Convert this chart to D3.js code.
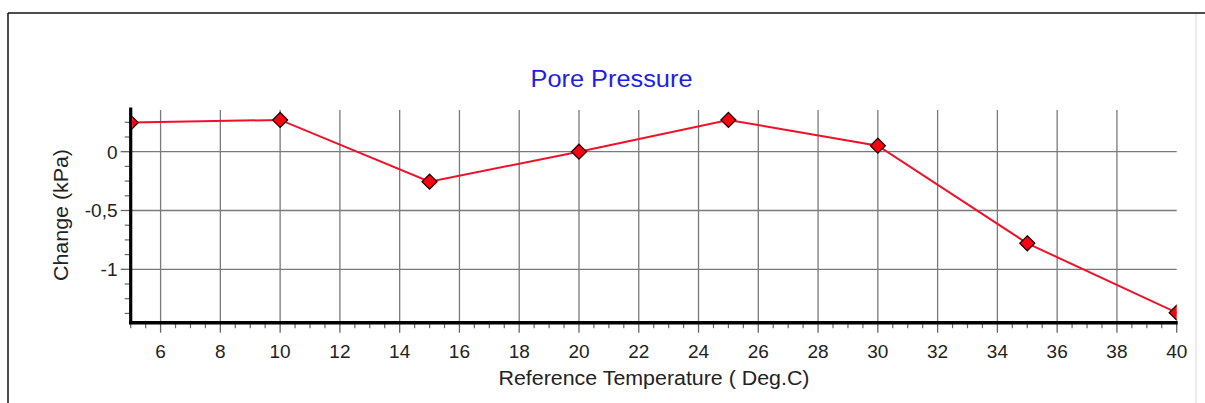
<!DOCTYPE html>
<html>
<head>
<meta charset="utf-8">
<script src="https://cdn.jsdelivr.net/npm/d3@7"></script>
<style>
  html, body { margin: 0; padding: 0; background: #fff; }
  svg { display: block; font-family: "Liberation Sans", Arial, sans-serif; }
</style>
</head>
<body>
<svg id="chart" width="1205" height="403"></svg>
<script>
// ---- data ----
const temperatures = [5, 10, 15, 20, 25, 30, 35, 40];
const changes = [0.247, 0.27, -0.255, 0.0, 0.27, 0.051, -0.779, -1.369];
const xTickValues = [6, 8, 10, 12, 14, 16, 18, 20, 22, 24, 26, 28, 30, 32, 34, 36, 38, 40];
const yTickValues = [0, -0.5, -1];
const yTickLabels = ["0", "-0,5", "-1"];
const titleText = "Pore Pressure";
const xLabelText = "Reference Temperature ( Deg.C)";
const yLabelText = "Change (kPa)";

const svg = d3.select("#chart");

// frame
svg.append("line").attr("x1", 8).attr("x2", 1205).attr("y1", 13).attr("y2", 13)
  .attr("stroke", "#111").attr("stroke-width", 1.5);
svg.append("line").attr("x1", 8).attr("x2", 8).attr("y1", 13).attr("y2", 403)
  .attr("stroke", "#111").attr("stroke-width", 1.5);
svg.append("line").attr("x1", 1196).attr("x2", 1196).attr("y1", 14).attr("y2", 403)
  .attr("stroke", "#e4e4e4").attr("stroke-width", 1.5);

const x = d3.scaleLinear().domain([5, 40]).range([130.7, 1176.7]);
const y = d3.scaleLinear().domain([-1.454, 0.363]).range([322.7, 109]);

const plotTop = 109, plotBottom = 322.7, plotLeft = 130.7, plotRight = 1176.7;

// grid
const gridX = xTickValues.filter(v => v < 40);
svg.append("g").selectAll("line").data(gridX).join("line")
  .attr("x1", d => x(d)).attr("x2", d => x(d))
  .attr("y1", 110).attr("y2", plotBottom)
  .attr("stroke", "#7a7a7a").attr("stroke-width", 1.3);
svg.append("g").selectAll("line").data(yTickValues).join("line")
  .attr("x1", plotLeft).attr("x2", plotRight)
  .attr("y1", d => y(d)).attr("y2", d => y(d))
  .attr("stroke", "#7a7a7a").attr("stroke-width", 1.3);

// minor ticks
const xMinor = d3.range(5, 40.01, 0.5).filter(v => !xTickValues.includes(v));
svg.append("g").selectAll("line").data(xMinor).join("line")
  .attr("x1", d => x(d)).attr("x2", d => x(d))
  .attr("y1", plotBottom).attr("y2", plotBottom + 5.5)
  .attr("stroke", "#666").attr("stroke-width", 1.2);
svg.append("g").selectAll("line").data(xTickValues).join("line")
  .attr("x1", d => x(d)).attr("x2", d => x(d))
  .attr("y1", plotBottom).attr("y2", plotBottom + 10)
  .attr("stroke", "#666").attr("stroke-width", 1.3);

const yMinor = d3.range(-11, 3).map(i => i * 0.125).filter(v => !yTickValues.includes(v));
svg.append("g").selectAll("line").data(yMinor).join("line")
  .attr("x1", plotLeft - 6).attr("x2", plotLeft)
  .attr("y1", d => y(d)).attr("y2", d => y(d))
  .attr("stroke", "#666").attr("stroke-width", 1.2);
svg.append("g").selectAll("line").data(yTickValues).join("line")
  .attr("x1", plotLeft - 10).attr("x2", plotLeft)
  .attr("y1", d => y(d)).attr("y2", d => y(d))
  .attr("stroke", "#666").attr("stroke-width", 1.3);

// tick labels
svg.append("g").selectAll("text").data(xTickValues).join("text")
  .attr("x", d => x(d)).attr("y", 357.5)
  .attr("text-anchor", "middle").attr("font-size", 19).attr("fill", "#222")
  .text(d => d);
svg.append("g").selectAll("text").data(yTickValues).join("text")
  .attr("x", 117.5).attr("y", d => y(d)).attr("dy", "0.36em")
  .attr("text-anchor", "end").attr("font-size", 19).attr("fill", "#222")
  .text((d, i) => yTickLabels[i]);

// axis lines
svg.append("line").attr("x1", plotLeft).attr("x2", plotLeft)
  .attr("y1", 107.5).attr("y2", plotBottom + 1.5)
  .attr("stroke", "#000").attr("stroke-width", 3.2);
svg.append("line").attr("x1", plotLeft - 1.5).attr("x2", plotRight + 1)
  .attr("y1", plotBottom).attr("y2", plotBottom)
  .attr("stroke", "#000").attr("stroke-width", 3.5);

// clip
svg.append("clipPath").attr("id", "plotclip").append("rect")
  .attr("x", plotLeft + 1.5).attr("y", plotTop - 10)
  .attr("width", plotRight - plotLeft - 1.5).attr("height", plotBottom - plotTop + 8.5);

const data = temperatures.map((t, i) => ({ t, v: changes[i] }));
const g = svg.append("g").attr("clip-path", "url(#plotclip)");
g.append("path").datum(data)
  .attr("d", d3.line().x(d => x(d.t)).y(d => y(d.v)))
  .attr("fill", "none").attr("stroke", "#f0102a").attr("stroke-width", 2);
const r = 7.5;
g.selectAll("path.m").data(data).join("path").attr("class", "m")
  .attr("d", d => `M${x(d.t)},${y(d.v) - r}L${x(d.t) + r},${y(d.v)}L${x(d.t)},${y(d.v) + r}L${x(d.t) - r},${y(d.v)}Z`)
  .attr("fill", "#ff0010").attr("stroke", "#200").attr("stroke-width", 1.3);

// titles
svg.append("text").attr("x", 611.5).attr("y", 86.5)
  .attr("text-anchor", "middle").attr("font-size", 23).attr("fill", "#1e1ee6")
  .attr("textLength", 162).attr("lengthAdjust", "spacingAndGlyphs")
  .text(titleText);
svg.append("text").attr("x", 654).attr("y", 385)
  .attr("text-anchor", "middle").attr("font-size", 20.5).attr("fill", "#222")
  .attr("textLength", 311).attr("lengthAdjust", "spacingAndGlyphs")
  .text(xLabelText);
svg.append("text").attr("transform", "translate(67.5,215) rotate(-90)")
  .attr("text-anchor", "middle").attr("font-size", 20.5).attr("fill", "#222")
  .attr("textLength", 132).attr("lengthAdjust", "spacingAndGlyphs")
  .text(yLabelText);
</script>
</body>
</html>
